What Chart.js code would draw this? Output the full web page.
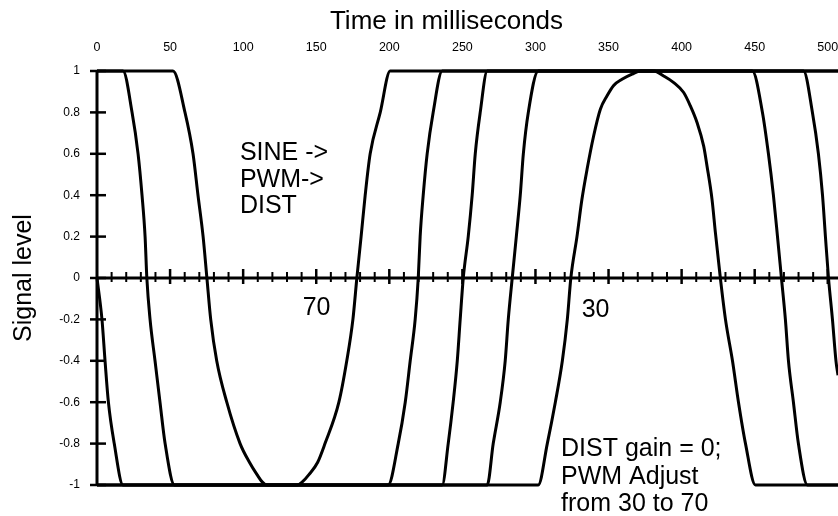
<!DOCTYPE html>
<html>
<head>
<meta charset="utf-8">
<script src="https://cdn.jsdelivr.net/npm/chart.js@4/dist/chart.umd.min.js"></script>
<style>
html,body{margin:0;padding:0;background:#fff;}
#wrap{width:838px;height:516px;}
</style>
</head>
<body>
<div id="wrap"><canvas id="c" width="838" height="516"></canvas></div>
<script>
// ---- axis ticks ----
const xTickValues = [0, 50, 100, 150, 200, 250, 300, 350, 400, 450, 500];
const xMinorStep = 10;
const xMax = 507;
const yTickValues = [-1, -0.8, -0.6, -0.4, -0.2, 0, 0.2, 0.4, 0.6, 0.8, 1];
const yTickLabels = ['-1', '-0.8', '-0.6', '-0.4', '-0.2', '0', '0.2', '0.4', '0.6', '0.8', '1'];

// ---- series: [time in ms, signal level] ----
const curve70 = [[0,1],[52,1],[60.2,0.8],[65.7,0.6],[69.1,0.4],[72.6,0.2],[75.2,0],[77.8,-0.2],[81.9,-0.4],[88.8,-0.6],[97.9,-0.8],[104.3,-0.89],[109.5,-0.95],[113,-0.985],[116,-1],[137,-1],[140.5,-0.985],[145,-0.95],[151,-0.89],[156,-0.8],[165.5,-0.6],[170.9,-0.4],[175.1,-0.2],[177.8,0],[180.7,0.2],[183.5,0.4],[186.9,0.6],[193.8,0.8],[200.6,1],[448.4,1],[455.3,0.8],[459.4,0.6],[462.8,0.4],[465.6,0.2],[468.3,0],[471,-0.2],[473.1,-0.4],[476.5,-0.6],[479.9,-0.8],[486.1,-1],[507,-1]];
const curve60 = [[0,1],[17.8,1],[24,0.8],[28.1,0.6],[30.8,0.4],[32.9,0.2],[34.1,0],[36.3,-0.2],[39.7,-0.4],[43.1,-0.6],[46.6,-0.8],[53,-1],[199.2,-1],[206.1,-0.8],[210.9,-0.6],[214.3,-0.4],[217.7,-0.2],[219.8,0],[221.1,0.2],[223.2,0.4],[225.9,0.6],[230,0.8],[236.2,1],[483.4,1],[489.5,0.8],[493.6,0.6],[496.4,0.4],[498.4,0.2],[500.5,0],[503.2,-0.2],[505.6,-0.4],[507,-0.47]];
const curve50 = [[0,0],[3.4,-0.2],[5.5,-0.4],[7.8,-0.6],[11.8,-0.8],[17.8,-1],[236.2,-1],[240.3,-0.8],[243.7,-0.6],[246.5,-0.4],[248.5,-0.2],[250.6,0],[254,0.2],[256.7,0.4],[258.8,0.6],[262.2,0.8],[267,1],[507,1]];
const curve40 = [[0,-1],[267,-1],[271.1,-0.8],[275.9,-0.6],[279.3,-0.4],[281.4,-0.2],[284.1,0],[286.9,0.2],[289.6,0.4],[291.7,0.6],[295.1,0.8],[301.9,1],[507,1]];
const curve30 = [[0,-1],[301.9,-1],[308.1,-0.8],[313.6,-0.6],[318.4,-0.4],[321.8,-0.2],[324.2,0],[328.4,0.2],[331.8,0.38],[335.3,0.525],[339.8,0.686],[344.4,0.815],[349,0.88],[353.5,0.93],[359.2,0.96],[366.1,0.985],[371.8,1],[380.9,1],[387.7,0.976],[394.6,0.944],[401.4,0.896],[406,0.831],[410.6,0.75],[415.1,0.637],[417.4,0.54],[420.8,0.38],[423.1,0.22],[426.5,0],[430,-0.2],[434.8,-0.4],[438.9,-0.6],[443.7,-0.8],[450.5,-1],[507,-1]];
const seriesList = [curve70, curve60, curve50, curve40, curve30];
const seriesNames = ['PWM 70', 'PWM 60', 'PWM 50', 'PWM 40', 'PWM 30'];

// ---- text notes, placed in data units ----
const notes = [
  {text: 'SINE ->', t: 97.8, v: 0.570},
  {text: 'PWM->', t: 97.8, v: 0.441},
  {text: 'DIST', t: 97.8, v: 0.3126},
  {text: '70', t: 140.7, v: -0.179},
  {text: '30', t: 331.6, v: -0.187},
  {text: 'DIST gain = 0;', t: 317.5, v: -0.862},
  {text: 'PWM Adjust', t: 317.5, v: -0.995},
  {text: 'from 30 to 70', t: 317.5, v: -1.124}
];
const xTitle = 'Time in milliseconds';
const yTitle = 'Signal level';

const FONT = "'Liberation Sans', Arial, Helvetica, sans-serif";
Chart.defaults.font.family = FONT;
Chart.defaults.color = '#000';

const axesPlugin = {
  id: 'axesPlugin',
  beforeDatasetsDraw(chart) {
    const {ctx, chartArea: a, scales: {x, y}} = chart;
    const seg = (x1, y1, x2, y2, w) => {
      ctx.lineWidth = w; ctx.beginPath(); ctx.moveTo(x1, y1); ctx.lineTo(x2, y2); ctx.stroke();
    };
    ctx.save();
    ctx.strokeStyle = '#000';
    ctx.lineCap = 'butt';
    const x0 = x.getPixelForValue(0);
    seg(x0, a.top - 1, x0, a.bottom + 1, 3);
    yTickValues.forEach(v => {
      const py = y.getPixelForValue(v);
      seg(x0 - 7, py, x0 + 9, py, 2.5);
    });
    const py0 = y.getPixelForValue(0);
    seg(a.left, py0, a.right, py0, 3);
    for (let v = xMinorStep; v <= xMax; v += xMinorStep) {
      if (v % 50 === 0) continue;
      const px = x.getPixelForValue(v);
      seg(px, py0 - 6, px, py0 + 4, 2);
    }
    xTickValues.forEach(v => {
      if (v === 0) return;
      const px = x.getPixelForValue(v);
      seg(px, py0 - 9, px, py0 + 6, 2.5);
    });
    ctx.restore();
  },
  afterDraw(chart) {
    const {ctx, scales: {x, y}} = chart;
    ctx.save();
    ctx.fillStyle = '#000';
    ctx.textBaseline = 'alphabetic';
    ctx.textAlign = 'left';
    ctx.font = '25px ' + FONT;
    notes.forEach(n => {
      ctx.fillText(n.text, x.getPixelForValue(n.t), y.getPixelForValue(n.v));
    });
    ctx.textAlign = 'center';
    ctx.font = '26px ' + FONT;
    ctx.fillText(xTitle, 446.5, 29.3);
    ctx.restore();
  }
};

new Chart(document.getElementById('c'), {
  type: 'line',
  data: {
    datasets: seriesList.map((s, i) => ({
      label: seriesNames[i],
      data: s.map(p => ({x: p[0], y: p[1]})),
      borderColor: '#000',
      borderWidth: 3,
      pointRadius: 0,
      pointHoverRadius: 0,
      fill: false,
      cubicInterpolationMode: 'monotone',
      clip: 3
    }))
  },
  options: {
    responsive: false,
    animation: false,
    devicePixelRatio: 1,
    layout: {padding: {top: 0, left: 0, right: 0, bottom: 31}},
    plugins: {legend: {display: false}, tooltip: {enabled: false}},
    scales: {
      x: {
        type: 'linear',
        position: 'top',
        min: 0,
        max: xMax,
        grid: {display: false, drawTicks: false},
        border: {display: false},
        ticks: {padding: 16, font: {size: 12.5}, color: '#000', autoSkip: false, maxRotation: 0},
        afterBuildTicks: s => { s.ticks = xTickValues.map(v => ({value: v})); },
        afterFit: s => { s.height = 71; s.paddingLeft = 0; s.paddingRight = 0; }
      },
      y: {
        type: 'linear',
        position: 'left',
        min: -1,
        max: 1,
        grid: {display: false, drawTicks: false},
        border: {display: false},
        ticks: {
          padding: 17, font: {size: 12}, color: '#000',
          callback: (v, i) => yTickLabels[i]
        },
        afterBuildTicks: s => { s.ticks = yTickValues.map(v => ({value: v})); },
        afterFit: s => { s.width = 97; s.paddingTop = 0; s.paddingBottom = 0; },
        title: {display: true, text: yTitle, font: {size: 25}, color: '#000', padding: {top: 9, bottom: 0}}
      }
    }
  },
  plugins: [axesPlugin]
});
</script>
</body>
</html>
